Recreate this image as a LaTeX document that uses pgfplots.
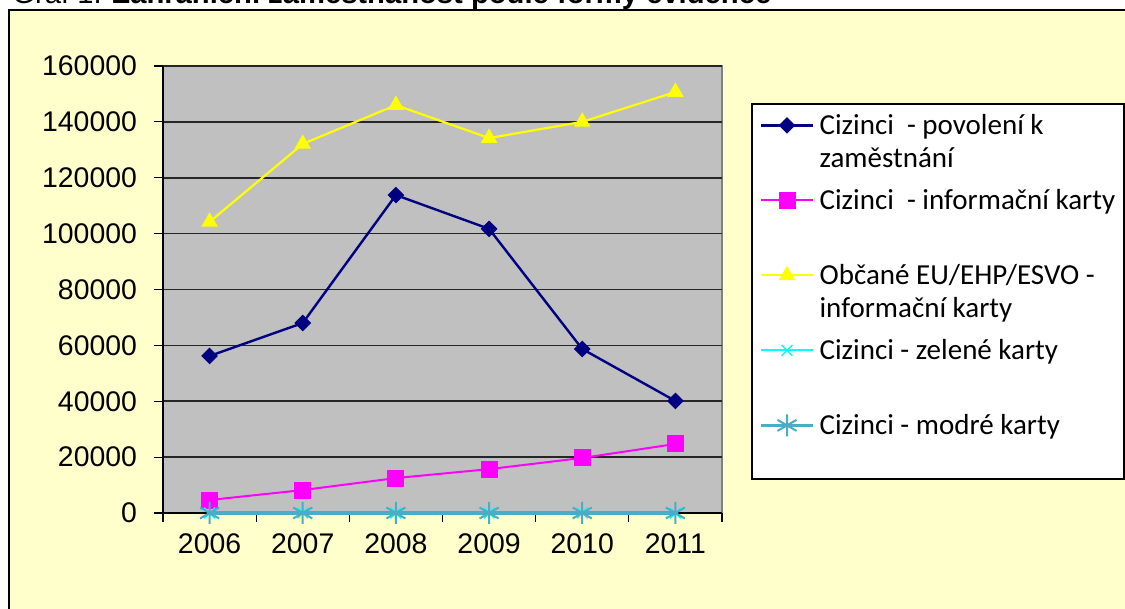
\documentclass[border=0pt]{standalone}
\usepackage{pgfplots}
\pgfplotsset{compat=1.18}
\usepackage{fontspec}
\setmainfont{Liberation Sans}
\newfontfamily\legfont{Carlito}
\definecolor{bgyellow}{HTML}{FFFFCC}
\definecolor{plotgray}{HTML}{C0C0C0}
\definecolor{bordergray}{HTML}{808080}
\definecolor{navyc}{HTML}{000080}
\definecolor{magc}{HTML}{FF00FF}
\definecolor{yelc}{HTML}{FFFF00}
\definecolor{cyanc}{HTML}{00FFFF}
\definecolor{tealc}{HTML}{4BACC6}
\newcommand\LE[1]{\parbox[t]{160pt}{\raggedright\strut #1}}

\begin{document}
\begin{tikzpicture}
\path[use as bounding box] (0,0) rectangle (562.5pt,304.5pt);
\clip (0,0) rectangle (562.5pt,304.5pt);
\fill[white] (0,0) rectangle (562.5pt,304.5pt);
\draw[fill=bgyellow, line width=0.75pt] (4.5pt,-10pt) rectangle (580pt,299.5pt);
\node[anchor=base west, inner sep=0pt, font=\fontsize{14.6}{16}\selectfont] at (6pt,302.5pt) {Graf 1: \textbf{Zahraniční zaměstnanost podle formy evidence}};
\draw[fill=white, line width=0.6pt] (376pt,65pt) rectangle (562pt,252.5pt);
\begin{axis}[
  at={(81.5pt,48pt)}, anchor=south west,
  scale only axis, width=279.5pt, height=223.5pt,
  xmin=-0.5, xmax=5.5, ymin=0, ymax=160000,
  axis x line*=bottom, axis y line*=left,
  x axis line style={-, line width=0.75pt, black},
  y axis line style={-, line width=0.75pt, black},
  axis background/.style={fill=plotgray, draw=bordergray, line width=1pt},
  tick align=outside,
  major tick length=4.5pt,
  tick style={black, line width=0.6pt},
  xtick={-0.5,0.5,1.5,2.5,3.5,4.5,5.5},
  xticklabels={,,,,,,},
  extra x ticks={0,1,2,3,4,5},
  extra x tick labels={2006,2007,2008,2009,2010,2011},
  extra x tick style={major tick length=0pt, grid=none},
  ytick={0,20000,40000,60000,80000,100000,120000,140000,160000},
  yticklabels={0,20000,40000,60000,80000,100000,120000,140000,160000},
  scaled y ticks=false,
  ticklabel style={font=\fontsize{14.2}{16}\selectfont},
  yticklabel style={xshift=-5pt},
  xticklabel style={yshift=-7pt},
  ymajorgrids,
  grid style={black!85, line width=0.8pt},
  clip=false,
  legend image code/.code={\draw[mark repeat=2,mark phase=2,#1] plot coordinates {(0pt,4.5pt) (13pt,4.5pt) (26pt,4.5pt)};},
  legend style={at={(1.0537,0.915)}, anchor=north west, draw=none, fill=none,
    font=\legfont\fontsize{14.5}{16.5}\selectfont,
    cells={anchor=base west, inner sep=0pt},
    row sep=20.45pt, column sep=0.5pt, inner xsep=3.5pt, inner ysep=1.45pt},
]
\addplot[navyc, line width=1.2pt, mark=square*, mark size=2.7pt, mark options={rotate=45, line width=0.5pt}]
  coordinates {(0,56200) (1,68000) (2,113800) (3,101700) (4,58700) (5,40100)};
\addlegendentry{\LE{Cizinci~~- povolení k\newline zaměstnání}}
\addplot[magc, line width=1pt, mark=square*, mark size=4pt, mark options={line width=0.5pt}]
  coordinates {(0,4650) (1,8200) (2,12500) (3,15700) (4,19700) (5,24700)};
\addlegendentry{\LE{Cizinci~~- informační karty}}
\addplot[yelc, line width=1.1pt, mark=triangle*, mark size=4.3pt, mark options={line width=0.5pt}]
  coordinates {(0,104200) (1,132100) (2,146000) (3,134200) (4,140000) (5,150700)};
\addlegendentry{\LE{Občané EU/EHP/ESVO -\newline informační karty}}
\addplot[cyanc, line width=1pt, mark=x, mark size=3.8pt, mark options={line width=0.7pt}]
  coordinates {(0,0) (1,0) (2,0) (3,0) (4,0) (5,0)};
\addlegendentry{\LE{Cizinci - zelené karty}}
\addplot[tealc, line width=1.6pt, mark=asterisk, mark size=5.5pt, mark options={line width=1pt}]
  coordinates {(0,0) (1,0) (2,0) (3,0) (4,0) (5,0)};
\addlegendentry{\LE{Cizinci - modré karty}}
\end{axis}
\end{tikzpicture}
\end{document}
